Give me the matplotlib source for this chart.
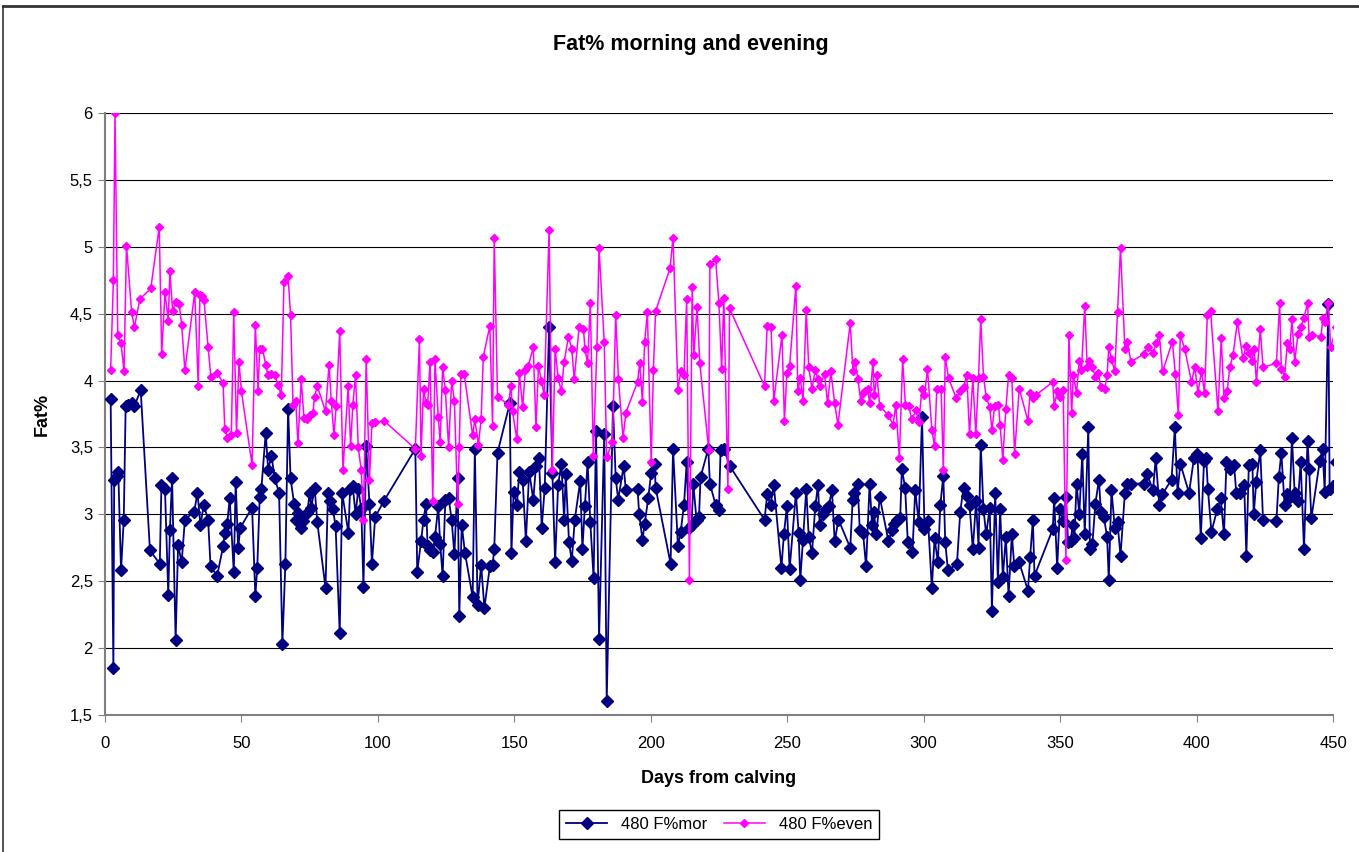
import matplotlib
matplotlib.use("Agg")
import matplotlib.pyplot as plt
from matplotlib.lines import Line2D

plt.rcParams['font.family'] = ['Liberation Sans', 'DejaVu Sans']

# morning fat%
days_mor = [2.2, 3.2, 3.5, 4.4, 5.0, 6.0, 7.0, 7.7, 8.7, 9.9, 10.9, 13.2, 16.6, 20.2, 20.8, 22.1, 23.3, 23.9,
            24.7, 26.0, 26.9, 28.2, 29.4, 32.8, 34.0, 35.1, 36.3, 37.9, 38.8, 41.2, 43.4, 44.0, 44.9, 45.8,
            47.3, 48.0, 48.9, 49.7, 54.0, 55.2, 55.9, 56.8, 57.4, 59.0, 59.9, 61.1, 62.3, 63.9, 65.1, 66.2,
            67.2, 68.1, 69.4, 70.2, 70.8, 71.8, 72.7, 74.2, 75.1, 75.7, 76.9, 77.9, 80.9, 81.8, 82.6, 83.6,
            84.6, 86.1, 87.0, 89.3, 89.9, 90.9, 91.9, 92.9, 94.0, 94.8, 95.8, 97.0, 97.9, 99.1, 102.3,
            113.8, 114.5, 115.9, 116.8, 117.7, 118.3, 119.2, 120.2, 121.0, 122.2, 122.9, 123.8, 124.8,
            126.0, 127.1, 128.1, 129.3, 129.9, 130.8, 132.0, 134.8, 135.6, 136.6, 137.9, 139.1, 141.1,
            142.1, 142.7, 143.9, 148.4, 149.0, 149.8, 151.0, 151.9, 153.1, 154.3, 155.5, 157.0, 158.0,
            159.1, 160.1, 161.2, 162.8, 164.0, 165.0, 166.1, 167.3, 168.3, 168.9, 170.1, 171.1, 172.2,
            174.2, 175.0, 175.9, 176.9, 177.9, 179.1, 180.0, 181.1, 183.0, 183.9, 186.2, 187.2, 188.1,
            190.1, 190.9, 195.2, 195.8, 197.0, 197.8, 199.1, 200.2, 201.5, 201.8, 207.3, 208.2, 210.0,
            211.0, 212.2, 213.2, 214.0, 215.0, 215.6, 216.8, 217.7, 218.3, 221.1, 221.7, 223.8, 225.0,
            225.6, 226.8, 229.0, 241.7, 242.7, 243.9, 245.1, 247.9, 248.8, 249.9, 250.9, 253.2, 254.2,
            254.8, 255.8, 257.0, 257.9, 259.1, 260.3, 261.3, 261.9, 263.1, 264.3, 265.2, 266.4, 267.4,
            268.8, 273.1, 274.0, 274.6, 275.8, 276.6, 277.8, 278.9, 280.2, 281.1, 281.7, 282.7, 283.9,
            287.1, 288.4, 289.3, 290.4, 291.4, 292.0, 293.2, 294.2, 295.9, 296.9, 298.2, 299.4, 300.3,
            301.6, 303.0, 304.0, 305.2, 306.1, 307.2, 307.9, 308.9, 312.2, 313.4, 314.6, 315.8, 316.8,
            318.0, 319.2, 320.1, 320.9, 321.9, 322.9, 324.2, 325.0, 326.2, 327.2, 328.0, 329.0, 330.1,
            331.1, 332.3, 333.2, 335.0, 338.2, 339.0, 340.0, 340.6, 347.3, 347.8, 348.9, 349.9, 351.1,
            352.1, 352.9, 353.8, 354.6, 355.2, 356.0, 357.0, 358.1, 359.0, 360.3, 360.9, 361.8, 362.9,
            364.2, 364.9, 366.0, 367.2, 367.8, 368.8, 370.0, 371.0, 372.1, 373.7, 374.5, 375.9, 380.7,
            381.9, 384.0, 385.0, 386.3, 387.4, 390.8, 392.0, 393.0, 394.0, 397.2, 399.0, 400.3, 401.5,
            402.7, 403.5, 404.1, 405.4, 407.6, 408.8, 410.0, 410.9, 412.1, 413.7, 414.5, 415.8, 417.4,
            418.2, 419.1, 420.4, 420.9, 421.8, 423.3, 424.3, 429.2, 430.1, 431.0, 432.2, 433.1, 434.1,
            434.9, 435.9, 437.1, 438.1, 439.3, 440.6, 441.2, 442.0, 445.1, 446.1, 446.9, 448.2, 448.7,
            449.9, 451.2, 452.4]
fat_mor = [3.86, 1.85, 3.26, 3.29, 3.32, 2.58, 2.96, 3.81, 3.82, 3.83, 3.81, 3.93, 2.73, 2.63, 3.22, 3.19, 2.40, 2.88,
           3.27, 2.06, 2.77, 2.64, 2.96, 3.02, 3.16, 2.92, 3.07, 2.96, 2.61, 2.54, 2.76, 2.86, 2.93, 3.12,
           2.57, 3.24, 2.75, 2.90, 3.05, 2.39, 2.60, 3.13, 3.19, 3.61, 3.33, 3.44, 3.27, 3.16, 2.03, 2.63,
           3.79, 3.27, 3.08, 2.96, 3.01, 2.90, 2.95, 3.01, 3.16, 3.05, 3.20, 2.94, 2.45, 3.16, 3.10, 3.04,
           2.91, 2.11, 3.16, 2.86, 3.19, 3.21, 3.00, 3.19, 3.04, 2.46, 3.51, 3.08, 2.63, 2.98, 3.10,
           3.49, 2.57, 2.80, 2.96, 3.08, 2.76, 2.73, 2.72, 2.83, 3.06, 2.78, 2.54, 3.11,
           3.12, 2.96, 2.70, 3.27, 2.24, 2.92, 2.71, 2.38, 3.49, 2.32, 2.62, 2.30, 2.61,
           2.62, 2.74, 3.46, 3.83, 2.71, 3.17, 3.07, 3.32, 3.26, 2.80, 3.32, 3.11, 3.36,
           3.42, 2.90, 3.20, 4.40, 3.31, 2.64, 3.22, 3.38, 2.96, 3.30, 2.79, 2.65, 2.96,
           3.25, 2.74, 3.06, 3.39, 2.94, 2.52, 3.62, 2.07, 3.60, 1.60, 3.81, 3.27, 3.11,
           3.36, 3.18, 3.19, 3.00, 2.81, 2.93, 3.12, 3.31, 3.38, 3.20, 2.63, 3.49, 2.76,
           2.87, 3.07, 3.39, 2.90, 2.92, 3.23, 2.96, 2.98, 3.28, 3.49, 3.23, 3.07, 3.03,
           3.48, 3.49, 3.36, 2.96, 3.15, 3.07, 3.22, 2.60, 2.85, 3.06, 2.59, 3.16, 2.86,
           2.51, 2.81, 3.19, 2.83, 2.71, 3.06, 3.22, 2.92, 3.00, 3.04, 3.06, 3.18, 2.80,
           2.96, 2.75, 3.11, 3.16, 3.23, 2.88, 2.86, 2.61, 3.23, 2.92, 3.02, 2.85, 3.13,
           2.80, 2.88, 2.93, 2.96, 2.97, 3.34, 3.20, 2.79, 2.72, 3.18, 2.94, 3.73, 2.89,
           2.95, 2.45, 2.82, 2.64, 3.07, 3.29, 2.79, 2.58, 2.63, 3.02, 3.20, 3.14, 3.07,
           2.74, 3.10, 2.75, 3.52, 3.04, 2.85, 3.05, 2.28, 3.16, 2.49, 3.04, 2.53, 2.83,
           2.39, 2.85, 2.61, 2.64, 2.43, 2.68, 2.96, 2.54, 2.89, 3.12, 2.60, 3.04, 2.95,
           3.13, 2.79, 2.80, 2.92, 2.82, 3.23, 3.00, 3.45, 2.85, 3.65, 2.74, 2.78, 3.08,
           3.26, 3.02, 2.98, 2.83, 2.51, 3.18, 2.90, 2.94, 2.69, 3.16, 3.23, 3.23, 3.23,
           3.30, 3.18, 3.42, 3.07, 3.15, 3.26, 3.65, 3.16, 3.38, 3.16, 3.42, 3.45, 2.82,
           3.40, 3.42, 3.19, 2.87, 3.04, 3.12, 2.85, 3.39, 3.34, 3.37, 3.16, 3.16, 3.22,
           2.69, 3.37, 3.38, 3.00, 3.24, 3.48, 2.96, 2.95, 3.28, 3.46, 3.07, 3.15, 3.13,
           3.57, 3.16, 3.10, 3.39, 2.74, 3.55, 3.34, 2.97, 3.40, 3.49, 3.17, 4.57, 3.19,
           3.21, 3.39, 3.58]

# evening fat%
days_even = [2.2, 3.2, 3.8, 4.8, 6.0, 7.1, 8.0, 9.9, 10.9, 12.9, 16.9, 20.0, 20.9, 22.1, 23.3, 23.9, 24.9, 26.0,
             27.3, 28.2, 29.4, 33.0, 34.3, 34.9, 35.5, 36.4, 37.9, 38.9, 41.2, 43.4, 44.0, 45.0, 46.4, 47.3,
             48.3, 49.2, 50.1, 54.0, 55.2, 56.2, 56.8, 57.8, 59.0, 59.8, 61.1, 62.3, 63.5, 64.7, 65.7, 67.2,
             68.1, 69.0, 70.0, 70.8, 72.0, 73.0, 74.1, 75.1, 76.3, 76.9, 77.9, 80.9, 82.2, 83.0, 84.0, 84.8,
             86.1, 87.3, 89.2, 90.1, 90.9, 91.9, 92.9, 94.0, 94.8, 95.8, 97.0, 97.9, 99.1, 102.3, 113.8,
             115.3, 115.9, 116.8, 117.7, 118.3, 119.2, 120.2, 121.0, 122.2, 122.9, 123.8, 124.8, 126.0,
             127.1, 128.1, 129.3, 129.9, 130.5, 131.7, 134.8, 135.6, 136.9, 137.9, 138.7, 141.1, 142.1,
             142.7, 143.9, 147.9, 148.8, 149.4, 151.0, 151.9, 153.1, 154.1, 155.2, 157.0, 158.0, 158.9,
             160.0, 161.0, 162.8, 164.0, 165.0, 166.1, 167.3, 168.3, 169.9, 171.1, 172.0, 173.8, 175.4,
             175.9, 176.9, 177.9, 179.0, 180.3, 181.1, 183.0, 183.9, 186.0, 187.2, 188.2, 189.9, 190.9,
             195.2, 196.0, 197.0, 197.8, 198.8, 200.2, 201.0, 201.8, 207.1, 208.2, 210.0, 211.0, 212.2,
             213.2, 214.2, 215.2, 215.8, 217.0, 218.0, 221.3, 221.7, 223.8, 225.0, 226.0, 226.8, 228.3,
             228.9, 241.7, 242.7, 244.1, 245.1, 248.1, 249.0, 249.9, 250.9, 253.2, 253.9, 254.8, 255.8,
             257.0, 257.9, 259.1, 260.3, 261.3, 261.9, 263.7, 264.8, 266.0, 267.4, 268.6, 273.1, 274.1,
             274.9, 275.9, 277.0, 277.8, 278.6, 279.5, 280.2, 281.4, 281.9, 282.9, 283.9, 287.1, 288.8,
             289.8, 291.1, 292.3, 293.3, 294.5, 295.7, 297.2, 298.2, 299.4, 300.3, 301.4, 303.0, 304.0,
             304.8, 306.4, 307.2, 307.9, 309.1, 311.9, 313.4, 314.6, 315.8, 316.8, 318.0, 319.1, 320.1,
             320.9, 321.9, 322.9, 324.2, 325.0, 326.0, 327.4, 328.0, 329.0, 330.1, 331.1, 332.3, 333.3,
             335.0, 338.2, 339.0, 340.2, 341.0, 347.3, 347.8, 348.9, 349.9, 351.1, 352.1, 353.2, 354.2,
             354.8, 356.0, 357.0, 357.8, 359.0, 359.9, 360.6, 361.8, 362.9, 363.9, 364.9, 366.3, 367.2,
             367.8, 368.8, 370.0, 371.0, 372.1, 373.7, 374.6, 375.9, 380.7, 382.0, 384.0, 385.2, 386.3,
             387.5, 391.1, 392.2, 393.3, 394.0, 395.6, 398.1, 399.3, 400.5, 401.7, 402.9, 403.9, 405.1,
             407.8, 409.0, 410.0, 411.2, 412.1, 413.3, 414.9, 416.9, 418.2, 419.1, 420.3, 421.0, 421.9,
             423.3, 424.3, 429.2, 430.4, 431.0, 432.2, 433.2, 434.1, 434.9, 435.9, 437.1, 438.1, 439.3,
             440.6, 441.2, 442.4, 445.5, 446.3, 446.9, 448.2, 449.1, 451.2, 452.4]
fat_even = [4.08, 4.75, 6.00, 4.34, 4.28, 4.07, 5.01, 4.51, 4.40, 4.61, 4.69, 5.15, 4.20, 4.66, 4.45, 4.82, 4.52, 4.59,
            4.57, 4.42, 4.08, 4.66, 3.96, 4.64, 4.63, 4.60, 4.25, 4.03, 4.06, 3.98, 3.64, 3.57, 3.59, 4.51,
            3.61, 4.14, 3.92, 3.37, 4.42, 3.92, 4.24, 4.24, 4.12, 4.04, 4.05, 4.04, 3.97, 3.89, 4.74, 4.78,
            4.49, 3.82, 3.85, 3.53, 4.01, 3.72, 3.71, 3.74, 3.76, 3.88, 3.96, 3.77, 4.12, 3.85, 3.59, 3.81,
            4.37, 3.33, 3.96, 3.51, 3.82, 4.04, 3.50, 3.33, 2.96, 4.16, 3.26, 3.68, 3.69, 3.70, 3.49,
            4.31, 3.44, 3.94, 3.83, 3.82, 4.14, 3.10, 4.16, 3.73, 3.54, 4.10, 3.93, 3.50,
            4.00, 3.85, 3.08, 3.50, 4.05, 4.05, 3.59, 3.71, 3.52, 3.71, 4.18, 4.41, 3.66,
            5.07, 3.88, 3.82, 3.96, 3.77, 3.56, 4.06, 3.80, 4.08, 4.11, 4.25, 3.65, 4.11,
            4.00, 3.89, 5.13, 3.33, 4.24, 4.02, 3.92, 4.14, 4.33, 4.24, 4.01, 4.40, 4.39,
            4.24, 4.13, 4.58, 3.44, 4.25, 4.99, 4.29, 3.43, 3.54, 4.49, 4.01, 3.57, 3.76,
            3.99, 4.13, 3.84, 4.29, 4.51, 3.39, 4.08, 4.52, 4.84, 5.07, 3.93, 4.07, 4.04,
            4.61, 2.51, 4.70, 4.19, 4.55, 4.13, 3.48, 4.87, 4.91, 4.58, 4.09, 4.62, 3.19,
            4.54, 3.96, 4.41, 4.40, 3.85, 4.34, 3.70, 4.06, 4.11, 4.71, 3.92, 4.02, 3.85,
            4.53, 4.10, 3.94, 4.08, 4.01, 3.96, 4.05, 3.83, 4.07, 3.83, 3.67, 4.43, 4.07,
            4.14, 4.01, 3.85, 3.91, 3.92, 3.94, 3.83, 4.14, 3.89, 4.04, 3.81, 3.74, 3.67,
            3.82, 3.42, 4.16, 3.82, 3.81, 3.71, 3.78, 3.69, 3.94, 3.89, 4.09, 3.63, 3.51,
            3.94, 3.94, 3.33, 4.18, 4.02, 3.87, 3.92, 3.95, 4.04, 3.60, 4.02, 3.60, 4.02,
            4.46, 4.03, 3.88, 3.80, 3.63, 3.81, 3.82, 3.67, 3.41, 3.79, 4.04, 4.02, 3.45,
            3.94, 3.70, 3.91, 3.87, 3.89, 3.99, 3.81, 3.92, 3.88, 3.93, 2.66, 4.34, 3.76,
            4.04, 3.91, 4.15, 4.08, 4.56, 4.10, 4.15, 4.10, 4.03, 4.06, 3.95, 3.94, 4.04,
            4.25, 4.16, 4.07, 4.51, 4.99, 4.24, 4.29, 4.14, 4.20, 4.25, 4.21, 4.28, 4.34,
            4.07, 4.29, 4.05, 3.74, 4.34, 4.24, 3.99, 4.10, 3.91, 4.07, 3.91, 4.49, 4.52,
            3.77, 4.32, 3.87, 3.92, 4.10, 4.19, 4.44, 4.17, 4.26, 4.21, 4.15, 4.24, 3.99,
            4.39, 4.10, 4.13, 4.58, 4.09, 4.03, 4.28, 4.24, 4.46, 4.14, 4.35, 4.40, 4.47,
            4.58, 4.33, 4.34, 4.33, 4.47, 4.44, 4.58, 4.25, 4.40, 4.10]

yticks = [1.5, 2, 2.5, 3, 3.5, 4, 4.5, 5, 5.5, 6]
ytick_labels = ['1,5', '2', '2,5', '3', '3,5', '4', '4,5', '5', '5,5', '6']
xticks = [0, 50, 100, 150, 200, 250, 300, 350, 400, 450]

fig = plt.figure(figsize=(13.59, 8.52), dpi=100)
# chart border: only top and left edges are visible in the original
fig.add_artist(Line2D([0.0022, 1.0], [0.9935, 0.9935], color='#333333', lw=2, transform=fig.transFigure))
fig.add_artist(Line2D([0.0022, 0.0022], [0.0, 0.9935], color='#333333', lw=1.2, transform=fig.transFigure))

ax = fig.add_axes([0.077, 0.161, 0.904, 0.706])

ax.plot(days_mor, fat_mor, color='#000080', lw=1.3, marker='D', ms=6.5,
        label='480 F%mor', zorder=3)
ax.plot(days_even, fat_even, color='#FF00FF', lw=1.1, marker='D', ms=4,
        label='480 F%even', zorder=4)

ax.set_xlim(0, 450)
ax.set_ylim(1.5, 6)
ax.set_xticks(xticks)
ax.set_yticks(yticks)
ax.set_yticklabels(ytick_labels)
ax.tick_params(labelsize=12, direction='out', length=5, color='#808080')
ax.tick_params(axis='x', pad=10)
ax.yaxis.grid(True, color='black', lw=0.8)
ax.set_axisbelow(True)
for s in ['top', 'right']:
    ax.spines[s].set_visible(False)
for s in ['left', 'bottom']:
    ax.spines[s].set_color('#808080')
    ax.spines[s].set_linewidth(1.5)

ax.set_xlabel('Days from calving', fontsize=13, fontweight='bold', labelpad=14)
ax.set_ylabel('Fat%', fontsize=13, fontweight='bold', labelpad=14)
fig.text(0.508, 0.948, 'Fat% morning and evening', ha='center', va='center',
         fontsize=15.5, fontweight='bold')

leg = fig.legend(loc='lower center', bbox_to_anchor=(0.529, 0.006), ncol=2, fontsize=12,
                 fancybox=False, edgecolor='black', framealpha=1, handlelength=2.5,
                 columnspacing=1.0, borderpad=0.4)
leg.get_frame().set_linewidth(1.0)

fig.savefig('out.png', dpi=100)
